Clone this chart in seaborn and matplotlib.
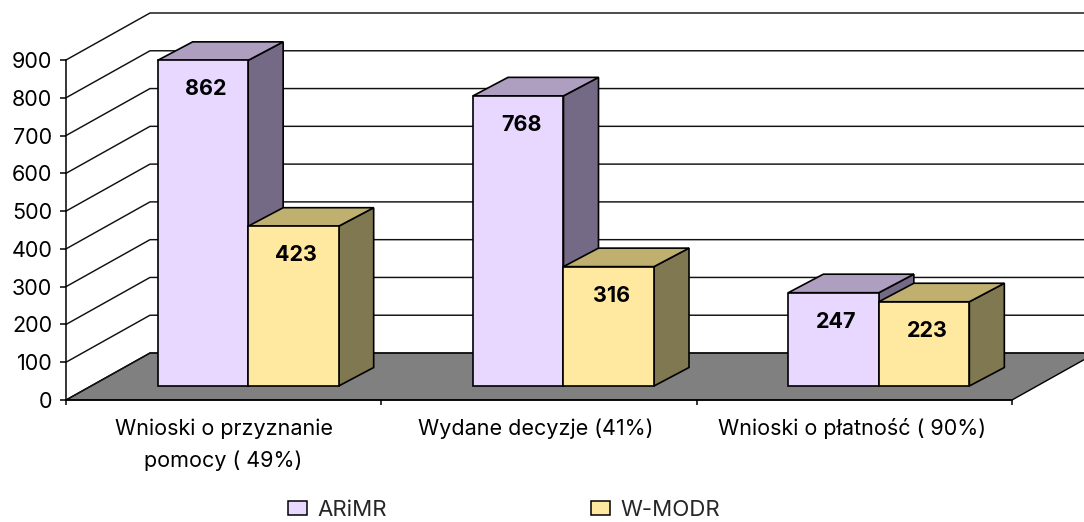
#!/usr/bin/env python

import matplotlib
matplotlib.use("Agg")
import matplotlib.pyplot as plt
import numpy as np
import pandas as pd
import seaborn as sns
from matplotlib.lines import Line2D
from matplotlib.patches import Patch, Polygon
from matplotlib.transforms import Affine2D, IdentityTransform

categories = ['Wnioski o przyznanie\npomocy ( 49%)', 'Wydane decyzje (41%)', 'Wnioski o płatność ( 90%)']
arimr = [862, 768, 247]
wmodr = [423, 316, 223]
series_names = ['ARiMR', 'W-MODR']
y_ticks = [0, 100, 200, 300, 400, 500, 600, 700, 800, 900]

front_colors = ['#E8D8FF', '#FFE9A0']
top_colors = ['#AE9FC0', '#C0B070']
side_colors = ['#756A85', '#807850']

# pixel offsets of the fake 3d
WALL = (84, 47)
BAR_SHIFT = (24.5, 14)
BAR_DEPTH = (35, 18.5)
FS = 15.5

W, H = 1084, 522
sns.set_style("white")
plt.rcParams['font.family'] = ['Inter', 'DejaVu Sans']

df = pd.DataFrame({
    'kategoria': categories * 2,
    'liczba': arimr + wmodr,
    'seria': [series_names[0]] * 3 + [series_names[1]] * 3,
})

fig = plt.figure(figsize=(W / 100, H / 100), dpi=100)
ax = fig.add_axes([66 / W, (H - 400) / H, 946 / W, 340 / H])
sns.barplot(data=df, x='kategoria', y='liczba', hue='seria', palette=front_colors,
            width=0.574, gap=0, edgecolor='black', linewidth=1.2, saturation=1,
            legend=False, ax=ax)
ax.set_xlim(-0.5, 2.5)
ax.set_ylim(0, 900)
ax.set(xlabel='', ylabel='')
ax.set_yticks(y_ticks)
ax.patch.set_visible(False)
sns.despine(ax=ax)
for s in ['left', 'bottom']:
    ax.spines[s].set_linewidth(1.1)
    ax.spines[s].set_color('black')


def px(x, y):
    return ax.transData.transform((x, y))


def depth_face(points, color, z, lw=1.2):
    ax.add_patch(Polygon(points, closed=True, facecolor=color, edgecolor='black', linewidth=lw,
                         transform=IdentityTransform(), clip_on=False, zorder=z))


# floor
x0, x1 = ax.get_xlim()
fl, fr = px(x0, 0), px(x1, 0)
wall = np.array(WALL)
depth_face([fl, fr, fr + wall, fl + wall], '#808080', 1, lw=1.0)

# wall lines
for t in y_ticks:
    a = px(x0, t)
    b = a + wall
    ax.add_line(Line2D([a[0], b[0], W + 20], [a[1], b[1], b[1]], color='#111111', linewidth=1.05,
                       transform=IdentityTransform(), clip_on=False, zorder=2))

# bars with side and top faces
off = np.array(BAR_SHIFT)
shift = Affine2D().translate(*BAR_SHIFT)
depth = np.array(BAR_DEPTH)
for i, cont in enumerate(ax.containers):
    for bar in cont:
        left, w, h = bar.get_x(), bar.get_width(), bar.get_height()
        bl, br = px(left, 0) + off, px(left + w, 0) + off
        tl, tr = px(left, h) + off, px(left + w, h) + off
        z = 3 + i
        depth_face([br, br + depth, tr + depth, tr], side_colors[i], z)
        depth_face([tl, tr, tr + depth, tl + depth], top_colors[i], z)
        bar.set_transform(ax.transData + shift)
        bar.set_clip_on(False)
        bar.set_zorder(z + 0.1)
        ax.annotate(str(int(h)), xy=(left + w / 2, h), xytext=((BAR_SHIFT[0] + 3) * 0.72, (BAR_SHIFT[1] - 29) * 0.72),
                    textcoords='offset points', ha='center', va='center', fontsize=FS,
                    fontweight='bold', color='black', zorder=6)

# ticks: labels stay on categories, marks on the boundaries
ax.set_xticks([-0.5, 0.5, 1.5, 2.5], minor=True)
ax.tick_params(axis='x', which='minor', length=3.6, width=1.1, color='black', bottom=True)
ax.tick_params(axis='x', which='major', length=0, pad=13.3, labelsize=FS, labelcolor='black')
ax.tick_params(axis='y', length=4.3, width=1.1, color='black', left=True, pad=5.5, labelsize=FS, labelcolor='black')
for lab, dx in zip(ax.get_xticklabels(), [0, -3, -2]):
    lab.set_linespacing(1.7)
    lab.set_transform(lab.get_transform() + Affine2D().translate(dx, 0))

handles = [Patch(facecolor=front_colors[i], edgecolor='black', linewidth=1.1, label=series_names[i]) for i in range(2)]
fig.legend(handles=handles, loc='center', bbox_to_anchor=(504 / W, (H - 510) / H), ncol=2, frameon=False,
           fontsize=16, handlelength=0.85, handleheight=0.58, handletextpad=0.45, columnspacing=9.2,
           borderaxespad=0, borderpad=0)

fig.savefig('out.png', dpi=100)
